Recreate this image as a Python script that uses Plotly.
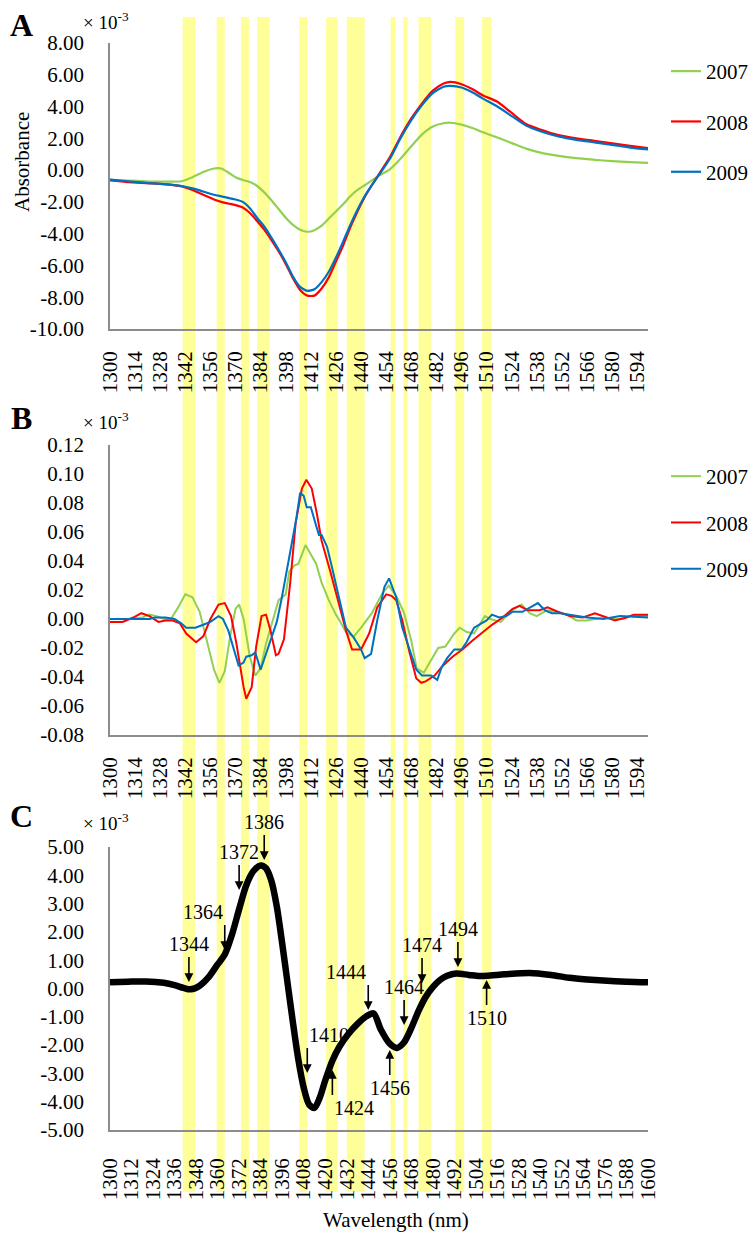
import numpy as np
import plotly.graph_objects as go

FONT = "Liberation Serif"
W, H = 748, 1228      # page body has an 8px margin; figure fills the rest of the 756x1236 window
OFF = 8

# ---------------- Panel A data (x 10^-3) ----------------
wl_A = [1300, 1310, 1320, 1330, 1340, 1346, 1352, 1358, 1362, 1366, 1370, 1374, 1378, 1382,
        1386, 1390, 1394, 1398, 1402, 1406, 1410, 1414, 1418, 1422, 1426, 1430, 1434, 1438,
        1442, 1446, 1450, 1456, 1462, 1468, 1474, 1480, 1486, 1490, 1496, 1502, 1508, 1516,
        1524, 1532, 1540, 1550, 1560, 1570, 1580, 1590, 1600]
a_2007 = [-0.62, -0.66, -0.70, -0.72, -0.70, -0.45, -0.12, 0.10, 0.10, -0.15, -0.45, -0.62, -0.75, -1.00,
          -1.40, -1.90, -2.45, -3.00, -3.45, -3.75, -3.88, -3.78, -3.50, -3.05, -2.60, -2.15, -1.65, -1.25,
          -0.95, -0.65, -0.35, 0.05, 0.72, 1.50, 2.25, 2.75, 2.95, 2.98, 2.86, 2.65, 2.38, 2.05,
          1.70, 1.35, 1.10, 0.90, 0.75, 0.65, 0.56, 0.50, 0.45]
a_2008 = [-0.65, -0.75, -0.82, -0.88, -1.02, -1.25, -1.55, -1.85, -2.00, -2.10, -2.20, -2.35, -2.70, -3.20,
          -3.75, -4.40, -5.10, -5.90, -6.80, -7.55, -7.90, -7.90, -7.45, -6.75, -5.75, -4.75, -3.60, -2.60,
          -1.70, -0.95, -0.25, 0.80, 2.10, 3.25, 4.20, 5.00, 5.45, 5.55, 5.40, 5.10, 4.70, 4.30,
          3.60, 2.90, 2.55, 2.20, 2.00, 1.85, 1.68, 1.52, 1.38]
a_2009 = [-0.60, -0.70, -0.80, -0.88, -1.00, -1.15, -1.35, -1.55, -1.65, -1.75, -1.85, -2.00, -2.40, -3.00,
          -3.55, -4.25, -5.00, -5.80, -6.70, -7.35, -7.60, -7.50, -7.05, -6.40, -5.50, -4.50, -3.45, -2.50,
          -1.65, -0.95, -0.30, 0.70, 2.00, 3.15, 4.10, 4.85, 5.25, 5.30, 5.20, 4.90, 4.50, 4.00,
          3.40, 2.80, 2.45, 2.12, 1.90, 1.75, 1.58, 1.42, 1.30]

# ---------------- Panel B data (x 10^-3) ----------------
wl_B07 = [1300, 1310, 1318, 1322, 1326, 1330, 1334, 1338, 1342, 1346, 1350, 1354, 1358, 1361, 1364, 1367,
          1370, 1372, 1374.5, 1378, 1381, 1384, 1387, 1391, 1394, 1398, 1400, 1403, 1405, 1409, 1412, 1415,
          1418, 1422, 1426, 1428, 1432, 1436, 1440, 1446, 1452, 1455.5, 1460, 1464, 1468, 1471, 1475, 1479,
          1483, 1487, 1492, 1495, 1499, 1503, 1506, 1509, 1512, 1518, 1523, 1529.5, 1534, 1538, 1543.5,
          1549, 1555, 1560, 1566, 1575, 1580, 1586, 1590, 1600]
b_2007 = [0.000, 0.000, 0.001, 0.003, 0.002, 0.000, 0.000, 0.008, 0.017, 0.015, 0.005, -0.015, -0.035, -0.044, -0.036, -0.012,
          0.007, 0.010, 0.000, -0.026, -0.039, -0.034, -0.017, 0.000, 0.013, 0.017, 0.033, 0.037, 0.038, 0.051, 0.044, 0.038,
          0.025, 0.013, 0.003, -0.001, -0.010, -0.012, -0.006, 0.004, 0.018, 0.023, 0.015, 0.004, -0.015, -0.034, -0.037, -0.028,
          -0.020, -0.019, -0.010, -0.006, -0.009, -0.010, -0.004, 0.002, 0.000, -0.002, 0.005, 0.010, 0.004, 0.002, 0.006,
          0.005, 0.003, -0.001, -0.001, 0.001, 0.000, 0.000, 0.002, 0.002]

wl_B08 = [1300, 1307, 1313, 1317.5, 1322, 1327, 1331, 1335, 1339, 1342.5, 1348, 1352, 1356, 1360.5, 1364, 1367.5,
          1370.5, 1374.5, 1376, 1379, 1381.5, 1384.5, 1387, 1389.5, 1392.5, 1394, 1397, 1400.5, 1403.5, 1407, 1409.5,
          1412.5, 1415.3, 1418, 1423, 1427.7, 1431.6, 1435, 1440, 1444.5, 1449, 1454, 1457, 1459.6, 1463, 1467, 1470.8,
          1473.6, 1476, 1481, 1485, 1491, 1496.5, 1502, 1506, 1509, 1513, 1519, 1524.5, 1528.4, 1533, 1539.6, 1544,
          1549.7, 1556.4, 1563.7, 1570.4, 1577, 1581.6, 1588, 1592, 1600]
b_2008 = [-0.002, -0.002, 0.001, 0.004, 0.002, -0.002, -0.001, -0.001, -0.003, -0.010, -0.016, -0.012, 0.000, 0.010, 0.011, 0.002,
          -0.017, -0.047, -0.055, -0.047, -0.019, 0.002, 0.003, -0.008, -0.025, -0.024, -0.014, 0.025, 0.066, 0.090, 0.096,
          0.090, 0.073, 0.054, 0.032, 0.011, -0.008, -0.021, -0.021, -0.010, 0.008, 0.017, 0.016, 0.013, -0.001, -0.023, -0.041,
          -0.044, -0.043, -0.039, -0.033, -0.026, -0.021, -0.015, -0.011, -0.008, -0.004, 0.001, 0.007, 0.009, 0.006, 0.006, 0.008,
          0.005, 0.002, 0.001, 0.004, 0.001, -0.001, 0.001, 0.003, 0.003]

wl_B09 = [1300, 1322, 1325, 1331, 1336, 1339.7, 1342.5, 1347.6, 1352, 1356, 1360.5, 1363, 1366, 1369, 1371.7, 1374.5,
          1376, 1379, 1381, 1384, 1387, 1391, 1393, 1395.7, 1398, 1400.8, 1404, 1406, 1408, 1409.7, 1412, 1414.8,
          1416.5, 1418, 1421, 1423.7, 1427.7, 1431.6, 1436, 1440, 1442, 1445.6, 1449, 1453, 1455.6, 1459.6, 1463, 1467,
          1470.8, 1474, 1479, 1482.5, 1485, 1488, 1492, 1496, 1498.8, 1503, 1506, 1510, 1513, 1517, 1521, 1524.5, 1530,
          1534, 1538.6, 1542.5, 1546.4, 1551, 1556.4, 1560, 1566, 1575, 1584.4, 1600]
b_2009 = [0.000, 0.000, 0.001, 0.001, 0.000, -0.003, -0.006, -0.006, -0.004, -0.002, 0.002, 0.000, -0.008, -0.020, -0.032, -0.030,
          -0.026, -0.025, -0.023, -0.035, -0.024, -0.008, -0.002, 0.014, 0.030, 0.048, 0.070, 0.087, 0.085, 0.077, 0.077, 0.065,
          0.058, 0.058, 0.050, 0.036, 0.015, -0.006, -0.013, -0.021, -0.027, -0.024, -0.001, 0.022, 0.028, 0.015, -0.006, -0.021,
          -0.035, -0.039, -0.039, -0.042, -0.033, -0.027, -0.021, -0.021, -0.016, -0.006, -0.004, -0.001, 0.003, 0.001, 0.002, 0.005, 0.005,
          0.008, 0.011, 0.006, 0.004, 0.004, 0.003, 0.002, 0.001, 0.000, 0.002, 0.001]

# ---------------- Panel C data (x 10^-3) ----------------
wl_C = [1300, 1310, 1320, 1330, 1336, 1341, 1345, 1350, 1355, 1360, 1364, 1368, 1372, 1376, 1380, 1384, 1387,
        1390, 1393, 1396, 1399, 1402, 1405, 1408, 1411, 1414, 1417, 1420, 1424, 1428, 1433, 1438, 1443, 1447,
        1451, 1456, 1460, 1464, 1468, 1472, 1476, 1480, 1484, 1488, 1493, 1500, 1506, 1512, 1520, 1534, 1546,
        1556, 1566, 1575, 1588, 1600]
c_val = [0.22, 0.24, 0.25, 0.20, 0.12, 0.02, -0.03, 0.10, 0.40, 0.85, 1.20, 1.90, 2.80, 3.65, 4.15, 4.35, 4.25,
         3.80, 2.90, 1.60, 0.20, -1.20, -2.50, -3.50, -4.10, -4.22, -3.85, -3.25, -2.55, -2.05, -1.60, -1.25, -0.98, -0.88,
         -1.45, -1.95, -2.10, -1.90, -1.40, -0.80, -0.30, 0.05, 0.30, 0.45, 0.53, 0.48, 0.44, 0.46, 0.50, 0.55, 0.48,
         0.38, 0.32, 0.28, 0.24, 0.22]

# annotated wavelengths in C, arrow direction, arrow-tip value, text side
c_labels = [1344, 1364, 1372, 1386, 1410, 1424, 1444, 1456, 1464, 1474, 1494, 1510]
c_dir = ["down", "down", "down", "down", "down", "up", "down", "up", "down", "down", "down", "up"]
c_tip = [0.23, 1.36, 3.48, 4.54, -2.99, -2.88, -0.76, -2.17, -1.29, 0.19, 0.76, 0.30]
c_side = ["center", "right", "center", "center", "left", "left", "right", "center", "center", "center", "center", "center"]

# highlighted bands (nm)
band_lo = [1340.5, 1359.5, 1373.0, 1382.0, 1405.5, 1420.5, 1432.0, 1456.5, 1463.5, 1472.0, 1492.5, 1507.5]
band_hi = [1347.5, 1364.0, 1377.5, 1389.0, 1410.0, 1427.0, 1442.0, 1459.0, 1466.0, 1479.0, 1497.5, 1512.5]

years = ["2007", "2008", "2009"]
colors = ["#92D050", "#FF0000", "#0070C0"]

ticks_AB = list(range(1300, 1600, 14))
ticks_C = list(range(1300, 1601, 12))
yA = list(range(-10, 9, 2))
yB = [-0.08, -0.06, -0.04, -0.02, 0.0, 0.02, 0.04, 0.06, 0.08, 0.10, 0.12]
yC = list(range(-5, 6, 1))

fig = go.Figure()

for yr, col, vals in zip(years, colors, [a_2007, a_2008, a_2009]):
    fig.add_trace(go.Scatter(x=wl_A, y=vals, mode="lines", name=yr,
                             line=dict(color=col, width=2.2, shape="spline", smoothing=0.6),
                             xaxis="x", yaxis="y", legend="legend", legendgroup="A" + yr))

for yr, col, xs, vals in zip(years, colors, [wl_B07, wl_B08, wl_B09], [b_2007, b_2008, b_2009]):
    fig.add_trace(go.Scatter(x=xs, y=vals, mode="lines", name=yr,
                             line=dict(color=col, width=2),
                             xaxis="x2", yaxis="y2", legend="legend2", legendgroup="B" + yr))

fig.add_trace(go.Scatter(x=wl_C, y=c_val, mode="lines", showlegend=False,
                         line=dict(color="black", width=6.5, shape="spline", smoothing=0.8),
                         xaxis="x3", yaxis="y3"))

# screen pixel (in the 756x1236 window) -> paper fraction
def px(p):
    return (p - OFF) / W

def py(p):
    return (OFF + H - p) / H

xdom = [px(110), px(648)]
axis_common = dict(showgrid=False, zeroline=False, showline=True, linecolor="#8C8C8C", linewidth=1.5,
                   ticks="", tickfont=dict(family=FONT, size=21, color="black"))

def xax(anchor, tvals, standoff):
    return dict(domain=xdom, range=[1300, 1600], anchor=anchor, tickvals=tvals,
                ticktext=[str(t) for t in tvals], tickangle=-90, ticklabelstandoff=standoff, **axis_common)

def yax(anchor, dom, rng, tvals):
    return dict(domain=dom, range=rng, anchor=anchor, tickvals=tvals,
                ticktext=[f"{v:.2f}" for v in tvals], ticklabelstandoff=20, **axis_common)

fig.update_layout(
    width=W, height=H, margin=dict(l=0, r=0, t=0, b=0, autoexpand=False),
    paper_bgcolor="white", plot_bgcolor="rgba(0,0,0,0)",
    font=dict(family=FONT, size=20, color="black"),
    xaxis=xax("y", ticks_AB, 12),
    yaxis=yax("x", [py(329), py(43)], [-10, 8], yA),
    xaxis2=xax("y2", ticks_AB, 12),
    yaxis2=yax("x2", [py(735), py(445)], [-0.08, 0.12], yB),
    xaxis3=xax("y3", ticks_C, 18),
    yaxis3=yax("x3", [py(1130), py(847)], [-5, 5], yC),
    legend=dict(x=px(666), y=py(51), xanchor="left", yanchor="top", traceorder="grouped",
                tracegroupgap=20, bgcolor="rgba(0,0,0,0)", font=dict(family=FONT, size=21)),
    legend2=dict(x=px(666), y=py(456), xanchor="left", yanchor="top", traceorder="grouped",
                 tracegroupgap=16, bgcolor="rgba(0,0,0,0)", font=dict(family=FONT, size=21)),
)

shapes = []
for lo, hi in zip(band_lo, band_hi):
    shapes.append(dict(type="rect", xref="x3", yref="paper", x0=lo, x1=hi, y0=py(1192), y1=py(17),
                       fillcolor="#FFFF99", line=dict(width=0), layer="below"))
fig.update_layout(shapes=shapes)

ann = []
for letter, (cx, cy), (sx, sy) in zip(["A", "B", "C"], [(22, 25), (22, 418), (22, 816)],
                                      [(106, 21), (106, 421), (106, 822)]):
    ann.append(dict(text=f"<b>{letter}</b>", xref="paper", yref="paper", x=px(cx), y=py(cy),
                    xanchor="center", yanchor="middle",
                    showarrow=False, font=dict(family=FONT, size=32, color="black")))
    ann.append(dict(text="× 10<sup>-3</sup>", xref="paper", yref="paper", x=px(sx), y=py(sy),
                    xanchor="center", yanchor="middle",
                    showarrow=False, font=dict(family=FONT, size=19, color="black")))

ann.append(dict(text="Absorbance", xref="paper", yref="paper", x=px(22), y=py(162), textangle=-90,
                xanchor="center", yanchor="middle",
                showarrow=False, font=dict(family=FONT, size=21, color="black")))
ann.append(dict(text="Wavelength (nm)", xref="paper", yref="paper", x=px(396), y=py(1220),
                xanchor="center", yanchor="middle",
                showarrow=False, font=dict(family=FONT, size=21, color="black")))

for lab, d, tip, side in zip(c_labels, c_dir, c_tip, c_side):
    down = d == "down"
    ann.append(dict(x=lab, y=tip, xref="x3", yref="y3", text=str(lab), showarrow=True,
                    ax=0, ay=-25 if down else 25,
                    xanchor=side, yanchor="bottom" if down else "top",
                    arrowhead=2, arrowsize=1.1, arrowwidth=1.6, arrowcolor="black", standoff=0,
                    font=dict(family=FONT, size=20, color="black")))

fig.update_layout(annotations=ann)

fig.write_html("out.html")
